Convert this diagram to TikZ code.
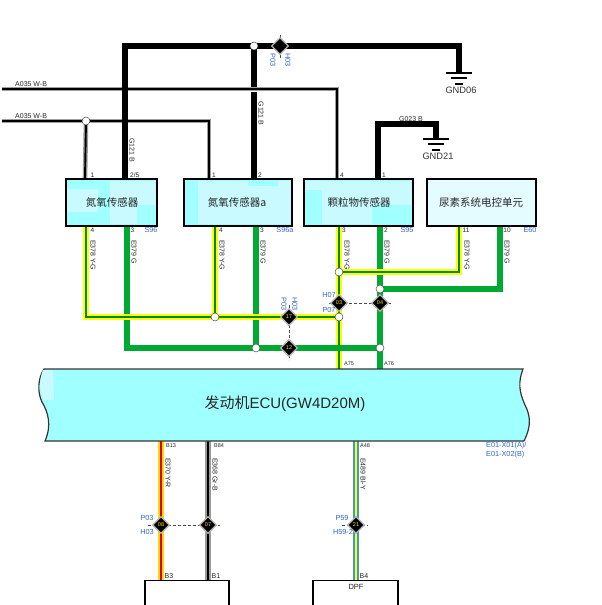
\documentclass[tikz,border=0pt]{standalone}
\usepackage{fontspec}
\setmainfont{Liberation Sans}
\newfontfamily\cjk{Noto Sans CJK SC}
\usetikzlibrary{calc,shapes.geometric}
\definecolor{wgreen}{RGB}{0,170,50}
\definecolor{wyellow}{RGB}{255,255,0}
\definecolor{lblue}{RGB}{50,100,200}
\definecolor{cy}{RGB}{160,255,255}
\definecolor{cyl}{RGB}{200,250,255}
\tikzset{x=1pt,y=-1pt,
 blk/.style={line width=5.4pt,black,line cap=butt,line join=miter},
 grn/.style={line width=5.4pt,wgreen,line join=miter},
 yel1/.style={line width=5.4pt,wyellow,line join=miter},
 yel2/.style={line width=1.7pt,wgreen!80!black,line join=miter},
 wbo/.style={line width=4.6pt,black!38,line join=miter},
 wbi/.style={line width=1.9pt,black,line join=miter},
 dot/.style={circle,draw=black!70,fill=white,line width=.5pt,minimum size=8pt,inner sep=0pt},
 splice/.style={diamond,fill=black,draw=black!30,line width=1.2pt,minimum size=17pt,inner sep=0pt,font=\fontsize{5.5}{5.5}\selectfont,text=yellow!80!orange},
 dsh/.style={dashed,black!70,line width=.5pt,dash pattern=on 3pt off 2pt},
 boxn/.style={draw=black,line width=1.4pt,inner sep=0pt},
 pin/.style={font=\fontsize{6.5}{6.5}\selectfont,inner sep=0pt,text=black!85},
 wl/.style={font=\fontsize{7}{7}\selectfont,inner sep=0pt,rotate=-90,text=black!85},
 bl/.style={font=\fontsize{7.3}{8}\selectfont,inner sep=0pt,text=lblue},
 blv/.style={bl,rotate=-90},
 nm/.style={font=\cjk\fontsize{10.5}{11}\selectfont,inner sep=0pt,text=black!85},
 gnd/.style={font=\fontsize{9.3}{10}\selectfont,inner sep=0pt,text=black!80},
}
\newcommand{\ywire}[1]{\draw[yel1] #1; \draw[yel2] #1;}
\begin{document}
\begin{tikzpicture}
\useasboundingbox (0,0) rectangle (602,605);
\fill[white] (0,0) rectangle (602,605);
\coordinate (tl) at (125,46); \coordinate (t2) at (254,46); \coordinate (tr) at (459,46);
\coordinate (g6) at (459,73); \coordinate (g21) at (436,139);
\coordinate (a1) at (2,89); \coordinate (a1r) at (337,89); \coordinate (a2) at (2,121);
\coordinate (a2r) at (209,121); \coordinate (j1) at (86,121);
% A035 wires
\foreach \s in {wbo,wbi}{
 \draw[\s] (a1) -- (a1r) -- (337,179);
 \draw[\s] (a2) -- (a2r) -- (209,179);
 \draw[\s] (j1) -- (85,179);
}
% black wires
\draw[blk] (125,179) -- (tl) -- (tr) -- (g6);
\draw[blk] (t2) -- (254,87);
\draw[blk] (254,92) -- (254,179);
\draw[blk] (378,179) -- (378,124) -- (436,124) -- (g21);
% ground
\foreach \p/\n in {g6/GND06,g21/GND21}{
 \draw[black,line width=1.4pt] ($(\p)+(-13,0)$) -- ($(\p)+(13,0)$);
 \draw[black,line width=1.4pt] ($(\p)+(-8,5)$) -- ($(\p)+(8,5)$);
 \draw[black,line width=1.4pt] ($(\p)+(-4,11)$) -- ($(\p)+(4,11)$);
 \node[gnd] (\n) at ($(\p)+(2,17)$) {\n};
}
% green wires
\draw[grn] (127,226) -- (127,348) -- (380,348);
\draw[grn] (256,226) -- (256,348);
\draw[grn] (380,226) -- (380,369);
\draw[grn] (500,226) -- (500,289) -- (380,289);
% yellow wires
\ywire{(86,226) -- (86,317) -- (339,317)}
\ywire{(215,226) -- (215,317)}
\ywire{(339,226) -- (339,369)}
\ywire{(459,226) -- (459,272) -- (339,272)}
\draw[grn] (330,348) -- (380,348);
% lower wires
\draw[line width=5.4pt,wyellow!70!orange] (161,441) -- (161,580);
\draw[line width=1.9pt,red!85!black] (161,441) -- (161,580);
\draw[line width=5.4pt,black!40] (208,441) -- (208,580);
\draw[line width=2.6pt,black] (208,441) -- (208,580);
\draw[line width=5.4pt,cyan!70!blue!80] (356,441) -- (356,580);
\draw[line width=1.9pt,wyellow] (356,441) -- (356,580);
% dashed
\draw[dsh] (329,303) -- (391,303);
\draw[dsh] (289,305) -- (289,360);
\draw[dsh] (148,525) -- (220,525);
\draw[dsh] (342,525) -- (368,525);
\draw[dsh] (280,35) -- (280,60);
% boxes
\node[boxn,fill=cy,minimum width=91pt,minimum height=47pt] (b1) at (111.5,202.5) {};
\fill[cyl] (67,189) rectangle (98,212);
\fill[cyl] (110,181) rectangle (137,224);
\fill[cyl] (137,181) rectangle (156,205);
\draw[black,line width=1.4pt] (b1.north west) rectangle (b1.south east);
\node[nm] (n1) at (112,202.5) {氮氧传感器};
\node[boxn,fill=cy,minimum width=108pt,minimum height=47pt] (b2) at (238,202.5) {};
\fill[cyl] (198,181) rectangle (248,224);
\fill[cyl] (248,186) rectangle (278,224);
\fill[cyl] (278,181) rectangle (291,224);
\draw[black,line width=1.4pt] (b2.north west) rectangle (b2.south east);
\node[nm] (n2) at (237,202.5) {氮氧传感器a};
\node[boxn,fill=cy,minimum width=109pt,minimum height=47pt] (b3) at (358.5,202.5) {};
\fill[cyl] (322,181) rectangle (412,212);
\fill[cyl] (305,181) rectangle (322,190);
\fill[cy] (372,205) rectangle (412,224);
\fill[cyl] (322,212) rectangle (372,224);
\draw[black,line width=1.4pt] (b3.north west) rectangle (b3.south east);
\node[nm] (n3) at (359,202.5) {颗粒物传感器};
\node[boxn,fill=cyl!50!white,minimum width=109pt,minimum height=47pt] (b4) at (481.5,202.5) {};
\node[nm] (n4) at (481,202.5) {尿素系统电控单元};
% ECU
\draw[draw=black!80,line width=1.2pt,fill=cy] (44,369) .. controls (38,378) and (37,392) .. (42,402) .. controls (48,412) and (52,425) .. (45,441) -- (524,441) .. controls (532,425) and (530,415) .. (525,405) .. controls (519,392) and (518,382) .. (523,369) -- cycle;
\fill[cyl] (43,370) .. controls (39,380) and (39,392) .. (44,400) -- (54,400) -- (53,370) -- cycle;
\node[inner sep=0pt,font=\fontsize{15}{16}\selectfont,text=black!85] (ecu) at (285,404) {{\cjk 发动机}ECU(GW4D20M)};
% dots
\node[dot] (d0) at (t2) {};
\node[dot] (d1) at (j1) {};
\node[dot] (d2) at (215,317) {};
\node[dot] (d3) at (256,348) {};
\node[dot] (d4) at (339,272) {};
\node[dot] (d5) at (380,289) {};
\node[dot] (d6) at (339,317) {};
\node[dot] (d7) at (380,348) {};
% splices
\node[splice] (s1) at (280,46) {};
\node[splice] (s2) at (289,317) {17};
\node[splice] (s3) at (289,348) {12};
\node[splice] (s4) at (339,303) {03};
\node[splice] (s5) at (380,303) {04};
\node[splice] (s6) at (161,525) {08};
\node[splice] (s7) at (208,525) {07};
\node[splice] (s8) at (356,525) {21};
% wire labels
\node[anchor=west,pin,font=\fontsize{7}{7}\selectfont] (la1) at (15,84) {A035 W-B};
\node[anchor=west,pin,font=\fontsize{7}{7}\selectfont] (la2) at (15,116) {A035 W-B};
\node[wl] (lg1) at (132,150) {G121 B};
\node[wl] (lg2) at (261,113.5) {G121 B};
\node[pin,font=\fontsize{7}{7}\selectfont] (lg3) at (411,119) {G023 B};
\foreach \x/\t in {93/E378 Y-G,134/E379 G,222/E378 Y-G,263/E379 G,347/E378 Y-G,387/E379 G,467/E378 Y-G,507/E379 G}{
 \node[wl,anchor=west] at (\x,240) {\t};
}
\node[wl,anchor=west] (le2) at (168,458) {E370 Y-R};
\node[wl,anchor=west] (le3) at (215,458) {E368 Gr-B};
\node[wl,anchor=west] (le4) at (363,458) {E489 Bl-Y};
% pins
\node[pin] (p1) at (92.5,175) {1};
\node[pin,anchor=west] (p2) at (130,175) {2/5};
\node[pin] (p3) at (214,175) {1};
\node[pin] (p4) at (260,175) {2};
\node[pin] (p5) at (342,175) {4};
\node[pin] (p6) at (384,175) {1};
\foreach \x/\t in {92.5/4,132.5/3,221/4,262/3,344/3,386/2,466/11,507/10}{
 \node[pin] at (\x,230.5) {\t};
}
\node[pin,font=\fontsize{5.5}{6}\selectfont] at (171,445.5) {B13};
\node[pin,font=\fontsize{5.5}{6}\selectfont] at (219,445.5) {B84};
\node[pin,font=\fontsize{5.5}{6}\selectfont] at (365,445.5) {A48};
\node[pin,font=\fontsize{5.5}{6}\selectfont] at (349,364) {A75};
\node[pin,font=\fontsize{5.5}{6}\selectfont] at (389,364) {A76};
\node[pin,font=\fontsize{7}{7}\selectfont] at (169,576) {B3};
\node[pin,font=\fontsize{7}{7}\selectfont] at (216,576) {B1};
\node[pin,font=\fontsize{7}{7}\selectfont] at (364,576) {B4};
% blue labels
\node[bl] at (151,230) {S96};
\node[bl] at (285,230) {S96a};
\node[bl] at (407,230) {S95};
\node[bl] at (530,230) {E60};
\node[blv] at (273,60) {P03};
\node[blv] at (288,60) {H03};
\node[blv] at (284,304) {P03};
\node[blv] at (295,304) {H03};
\node[bl] at (329,295) {H07};
\node[bl] at (329,310) {P07};
\node[bl] at (147,518) {P03};
\node[bl] at (147,532) {H03};
\node[bl] at (342,518) {P59};
\node[bl] at (343,532) {H59-2};
\node[bl,anchor=west] at (486,446) {E01-X01(A)/};
\node[bl,anchor=west] at (486,455) {E01-X02(B)};
% lower boxes
\draw[black,line width=1.4pt,fill=white] (145,640) -- (145,580.5) -- (229,580.5) -- (229,640);
\draw[black,line width=1.4pt,fill=white] (313,640) -- (313,580.5) -- (398,580.5) -- (398,640);
\node[inner sep=0pt,font=\fontsize{7.5}{8}\selectfont,text=black!85] at (356,587) {DPF};
\end{tikzpicture}
\end{document}
